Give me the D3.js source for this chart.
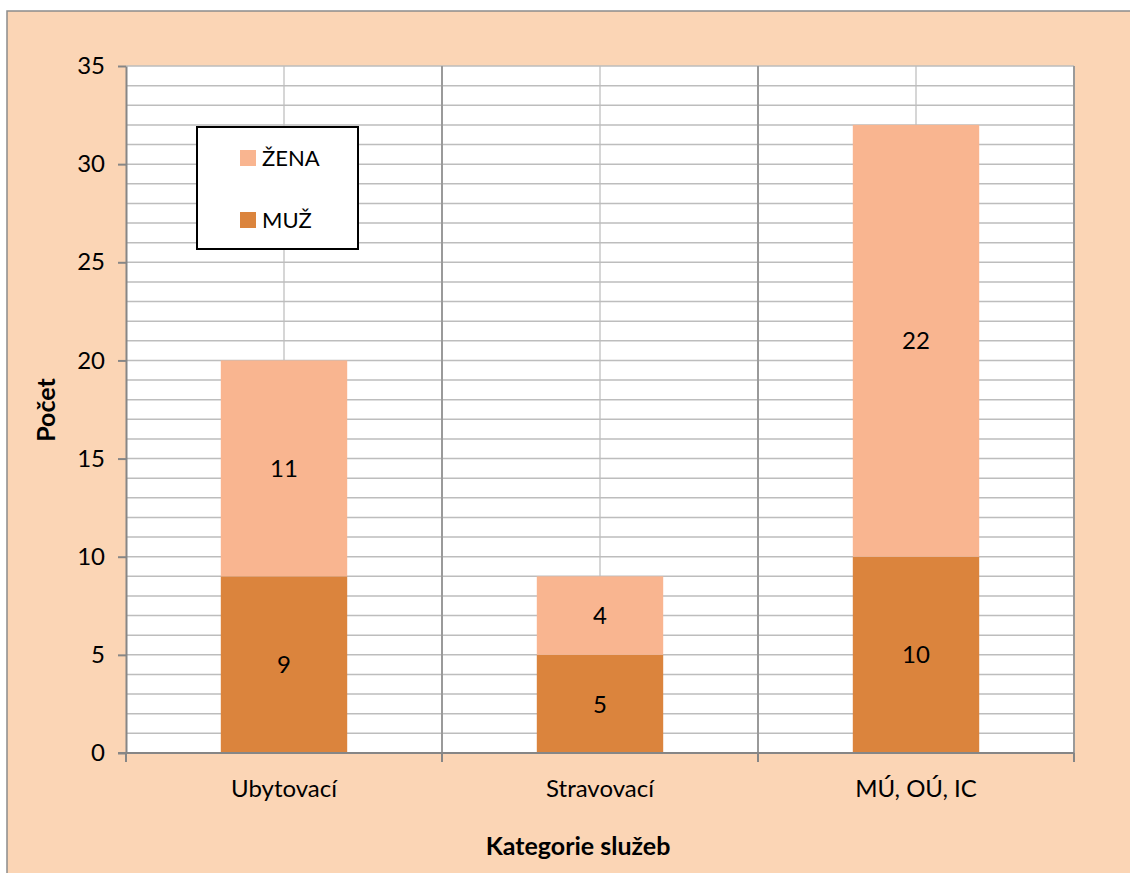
<!DOCTYPE html>
<html><head><meta charset="utf-8">
<script src="https://cdn.jsdelivr.net/npm/d3@7"></script>
<style>body{margin:0;background:#fff}svg{display:block}text{font-family:Lato,"Open Sans",sans-serif}</style>
</head><body>
<script>
const categories = ["Ubytovací", "Stravovací", "MÚ, OÚ, IC"];
const muz = [9, 5, 10];
const zena = [11, 4, 22];
const seriesNames = ["MUŽ", "ŽENA"];
const yTicks = [0, 5, 10, 15, 20, 25, 30, 35];

const W = 1130, H = 873;
const m = {left:126, top:66, right:1074, bottom:753};
const colors = {"MUŽ":"#DB843D", "ŽENA":"#F9B590"};

const svg = d3.select("body").append("svg").attr("width", W).attr("height", H);
svg.append("rect").attr("x",7).attr("y",11).attr("width",1300).attr("height",1000)
  .attr("fill","#FBD5B5").attr("stroke","#8C8C8C").attr("stroke-width",1.5);

const x = d3.scaleBand().domain(categories).range([m.left, m.right]).paddingInner(0).paddingOuter(0);
const y = d3.scaleLinear().domain([0, 35]).range([m.bottom, m.top]);

svg.append("rect").attr("x",m.left).attr("y",m.top).attr("width",m.right-m.left).attr("height",m.bottom-m.top).attr("fill","#fff");

const g = svg.append("g");
// minor vertical gridlines at category centres
g.selectAll("line.vc").data(categories).join("line")
  .attr("x1",d=>x(d)+x.bandwidth()/2).attr("x2",d=>x(d)+x.bandwidth()/2).attr("y1",m.top).attr("y2",m.bottom)
  .attr("stroke","#C8C8C8").attr("stroke-width",1.5);
// horizontal gridlines
g.selectAll("line.h").data(d3.range(1, 36)).join("line")
  .attr("x1",m.left).attr("x2",m.right).attr("y1",d=>y(d)).attr("y2",d=>y(d))
  .attr("stroke","#BDBDBD").attr("stroke-width",1.5);
// major vertical gridlines at category boundaries
const bounds = categories.map(c=>x(c)).slice(1).concat([x(categories[2])+x.bandwidth()]);
g.selectAll("line.v").data(bounds).join("line")
  .attr("x1",d=>d).attr("x2",d=>d).attr("y1",m.top).attr("y2",m.bottom)
  .attr("stroke","#9A9A9A").attr("stroke-width",2);

// stacked data
const data = categories.map((c,i)=>({cat:c, "MUŽ":muz[i], "ŽENA":zena[i]}));
const stack = d3.stack().keys(seriesNames)(data);
const bw = x.bandwidth()*0.4;
stack.forEach(s=>{
  const gg = svg.append("g");
  gg.selectAll("rect").data(s).join("rect")
    .attr("x",d=>x(d.data.cat)+x.bandwidth()/2-bw/2).attr("width",bw)
    .attr("y",d=>y(d[1])).attr("height",d=>y(d[0])-y(d[1]))
    .attr("fill",colors[s.key]);
  gg.selectAll("text").data(s).join("text")
    .attr("x",d=>x(d.data.cat)+x.bandwidth()/2).attr("y",d=>(y(d[0])+y(d[1]))/2)
    .attr("dy","0.36em").attr("text-anchor","middle").attr("font-size",24).attr("fill","#000")
    .text(d=>d[1]-d[0]);
});

// y axis
const yAxis = d3.axisLeft(y).tickValues(yTicks).tickSize(8).tickPadding(13).tickSizeOuter(0);
const ya = svg.append("g").attr("transform",`translate(${m.left},0)`).call(yAxis);
ya.select(".domain").attr("stroke","#868686").attr("stroke-width",2);
ya.selectAll(".tick line").attr("stroke","#868686").attr("stroke-width",2);
ya.selectAll(".tick text").attr("font-size",24).attr("fill","#000").attr("font-family","Lato");

// x axis
const xa = svg.append("g").attr("transform",`translate(0,${m.bottom})`);
xa.append("line").attr("x1",m.left-8).attr("x2",m.right).attr("y1",0).attr("y2",0).attr("stroke","#868686").attr("stroke-width",2);
xa.selectAll("line.t").data([m.left].concat(bounds)).join("line")
  .attr("x1",d=>d).attr("x2",d=>d).attr("y1",0).attr("y2",9).attr("stroke","#868686").attr("stroke-width",2);
xa.selectAll("text").data(categories).join("text")
  .attr("x",d=>x(d)+x.bandwidth()/2).attr("y",44).attr("text-anchor","middle")
  .attr("font-size",24).attr("fill","#000").text(d=>d);

// axis titles
svg.append("text").attr("x",578).attr("y",855).attr("text-anchor","middle")
  .attr("font-size",25).attr("font-weight","bold").text("Kategorie služeb");
svg.append("text").attr("transform","translate(55,410) rotate(-90)").attr("text-anchor","middle")
  .attr("font-size",25).attr("font-weight","bold").text("Počet");

// legend
const lg = svg.append("g");
lg.append("rect").attr("x",197).attr("y",127).attr("width",161).attr("height",122)
  .attr("fill","#fff").attr("stroke","#000").attr("stroke-width",2);
const legendItems = ["ŽENA","MUŽ"];
legendItems.forEach((k,i)=>{
  const yy = 158 + i*62;
  lg.append("rect").attr("x",240).attr("y",yy-8).attr("width",16).attr("height",16).attr("fill",colors[k]);
  lg.append("text").attr("x",262).attr("y",yy).attr("dy","0.36em").attr("font-size",22).text(k);
});
</script>
</body></html>
